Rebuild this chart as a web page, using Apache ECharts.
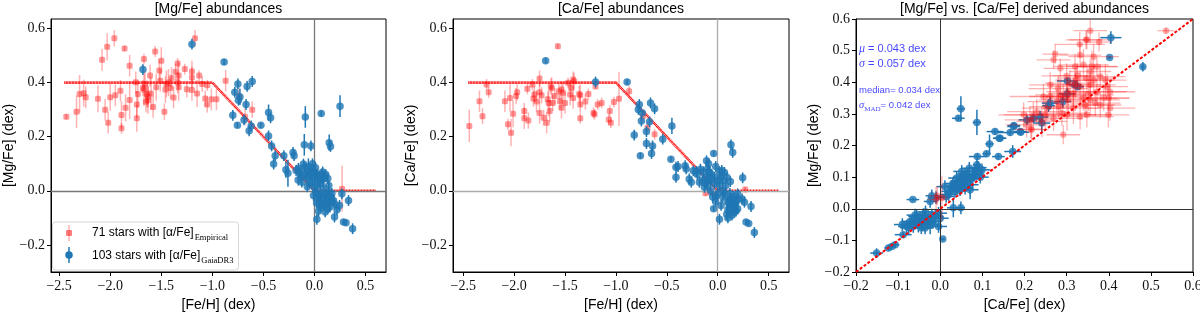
<!DOCTYPE html>
<html><head><meta charset="utf-8">
<script src="https://cdn.jsdelivr.net/npm/echarts@6/dist/echarts.min.js"></script>
<style>html,body{margin:0;padding:0;background:#fff}#c{width:1200px;height:314px}</style>
</head><body><div id="c"></div>
<script>
// ---------- tick labels / titles ----------
const titles = ['[Mg/Fe] abundances', '[Ca/Fe] abundances', '[Mg/Fe] vs. [Ca/Fe] derived abundances'];
const xTicksFeH = [-2.5, -2.0, -1.5, -1.0, -0.5, 0.0, 0.5];
const yTicksAbund = [-0.2, 0.0, 0.2, 0.4, 0.6];
const xTicksCa = [-0.2, -0.1, 0.0, 0.1, 0.2, 0.3, 0.4, 0.5, 0.6];
const yTicksMg = [-0.2, -0.1, 0.0, 0.1, 0.2, 0.3, 0.4, 0.5, 0.6];
// model trend (breakpoints) and 1:1 line
const modelLine = [[-2.45, 0.4], [-1.0, 0.4], [0.0, 0.0], [0.6, 0.0]];
const identityLine = [[-0.2, -0.2], [0.6, 0.6]];

// ---------- panel 1: [Fe/H], [Mg/Fe], err ----------
const p1Red = [
[-2.43,0.274,0.01],[-2.33,0.292,0.06],[-2.30,0.358,0.07],[-2.26,0.361,0.05],[-2.24,0.346,0.04],
[-2.08,0.484,0.04],[-2.03,0.532,0.05],[-1.96,0.564,0.03],[-1.86,0.526,0.01],[-2.05,0.300,0.04],
[-2.02,0.252,0.04],[-2.00,0.346,0.05],[-1.95,0.353,0.04],[-1.89,0.280,0.05],[-1.89,0.231,0.02],
[-1.85,0.307,0.05],[-1.81,0.336,0.07],[-1.81,0.462,0.04],[-1.75,0.401,0.04],[-1.74,0.319,0.05],
[-1.74,0.268,0.05],[-1.73,0.358,0.05],[-1.67,0.487,0.02],[-1.66,0.395,0.05],[-1.67,0.374,0.06],
[-1.64,0.358,0.05],[-1.63,0.349,0.04],[-1.65,0.329,0.04],[-1.61,0.426,0.04],[-1.56,0.515,0.02],
[-1.55,0.383,0.05],[-1.52,0.445,0.04],[-1.50,0.481,0.05],[-1.51,0.407,0.04],[-1.46,0.374,0.05],
[-1.47,0.292,0.03],[-1.45,0.395,0.05],[-1.41,0.380,0.04],[-1.40,0.417,0.04],[-1.34,0.471,0.02],
[-1.34,0.401,0.04],[-1.33,0.426,0.05],[-1.33,0.383,0.05],[-1.27,0.450,0.02],[-1.20,0.441,0.04],
[-1.20,0.373,0.04],[-1.20,0.419,0.04],[-1.13,0.426,0.02],[-1.05,0.390,0.02],[-1.07,0.341,0.03],
[-1.05,0.319,0.03],[-1.01,0.338,0.04],[-0.96,0.338,0.04],[-1.17,0.564,0.03],[-0.87,0.407,0.04],
[-0.74,0.350,0.03],[-0.61,0.300,0.03],[-0.68,0.274,0.03],[0.27,0.008,0.085],
[-1.68,0.380,0.03],[-1.63,0.335,0.05],[-1.60,0.360,0.06],[-1.58,0.310,0.04],[-1.38,0.345,0.04],
[-1.43,0.400,0.05],[-1.25,0.375,0.03],[-1.15,0.360,0.05],[-1.10,0.395,0.03],[-2.12,0.340,0.05],
[-1.90,0.370,0.04],[-1.36,0.440,0.03]
];
const p1Blue = [
[-1.68,0.448,0.02],[-1.20,0.542,0.02],[-0.885,0.476,0.01],[-0.75,0.395,0.02],[-0.66,0.386,0.02],
[-0.61,0.404,0.02],[-0.78,0.364,0.02],[-0.73,0.347,0.03],[-0.745,0.335,0.02],[-0.67,0.319,0.02],
[-0.80,0.279,0.02],[-0.755,0.242,0.01],[-0.69,0.262,0.02],[-0.62,0.240,0.02],[-0.64,0.222,0.02],
[-0.525,0.242,0.01],[-0.45,0.289,0.03],[-0.43,0.270,0.02],[-0.45,0.203,0.02],[-0.42,0.166,0.02],
[-0.385,0.130,0.02],[-0.40,0.099,0.02],[-0.30,0.130,0.02],[-0.28,0.078,0.03],[-0.26,0.065,0.05],
[-0.21,0.142,0.02],[-0.20,0.130,0.02],[-0.09,0.273,0.04],[-0.10,0.170,0.04],[-0.035,0.166,0.02],
[0.066,0.286,0.01],[0.25,0.313,0.04],[0.144,0.178,0.03],[0.157,0.164,0.02],
[-0.18,0.075,0.02],[-0.157,0.083,0.02],[-0.14,0.068,0.02],[-0.108,0.099,0.02],[-0.098,0.087,0.02],
[-0.09,0.062,0.02],[-0.075,0.050,0.02],[-0.058,0.071,0.02],[-0.042,0.056,0.02],[-0.025,0.081,0.02],
[-0.02,0.032,0.02],[0.0,0.050,0.02],[0.007,0.068,0.02],[0.023,0.056,0.02],[0.04,0.038,0.02],
[0.072,0.062,0.02],[0.078,0.044,0.02],[0.056,0.026,0.02],[0.13,0.046,0.02],[-0.124,0.032,0.02],
[0.013,-0.005,0.02],[0.033,-0.023,0.02],[0.072,-0.030,0.02],[0.105,-0.015,0.02],[0.121,-0.036,0.02],
[0.144,-0.042,0.02],[0.164,-0.023,0.02],[0.186,-0.036,0.02],[0.088,-0.054,0.02],[0.105,-0.078,0.02],
[0.196,-0.097,0.02],[0.245,-0.054,0.02],[0.333,-0.036,0.02],[0.023,-0.105,0.02],[0.284,-0.115,0.01],
[0.308,-0.118,0.01],[0.373,-0.140,0.02],[0.268,-0.011,0.02],[0.046,-0.042,0.02],[0.137,-0.005,0.02],
[-0.01,-0.017,0.02],[0.056,-0.011,0.02],
[-0.13,0.055,0.02],[-0.06,0.090,0.03],[0.01,0.085,0.02],[0.03,0.020,0.02],[0.09,0.010,0.02],
[0.11,0.060,0.02],[-0.05,0.030,0.02],[0.06,-0.060,0.02],[0.15,-0.060,0.02],[0.02,-0.045,0.02],
[0.12,-0.020,0.02],[0.20,-0.050,0.02],[-0.16,0.040,0.02],[0.08,0.070,0.02],[-0.02,0.100,0.02],
[0.17,-0.010,0.02],[0.04,-0.075,0.02],[0.10,-0.045,0.02],[-0.07,0.015,0.02],[0.0,0.012,0.02],
[0.14,0.020,0.02],[0.22,-0.070,0.02],[0.06,-0.015,0.02],[-0.03,0.070,0.02],[0.09,0.045,0.02],
[0.13,-0.065,0.02],[0.025,0.060,0.02]
];

// ---------- panel 2: [Fe/H], [Ca/Fe], err ----------
const p2Red = [
[-2.44,0.240,0.06],[-2.34,0.331,0.04],[-2.31,0.276,0.03],[-2.27,0.393,0.02],[-2.25,0.364,0.02],
[-2.09,0.331,0.04],[-2.06,0.246,0.02],[-2.04,0.343,0.05],[-2.03,0.215,0.05],[-2.01,0.285,0.05],
[-1.97,0.364,0.03],[-1.98,0.350,0.03],[-1.90,0.295,0.03],[-1.90,0.268,0.04],[-1.86,0.260,0.03],
[-1.87,0.377,0.02],[-1.82,0.393,0.02],[-1.81,0.341,0.03],[-1.80,0.356,0.03],[-1.75,0.415,0.03],
[-1.75,0.364,0.04],[-1.73,0.353,0.03],[-1.75,0.288,0.04],[-1.71,0.270,0.03],[-1.68,0.252,0.04],
[-1.67,0.338,0.03],[-1.66,0.325,0.05],[-1.65,0.295,0.04],[-1.64,0.386,0.03],[-1.63,0.380,0.04],
[-1.62,0.325,0.03],[-1.57,0.534,0.01],[-1.56,0.368,0.03],[-1.55,0.331,0.03],[-1.535,0.374,0.03],
[-1.535,0.307,0.04],[-1.52,0.362,0.04],[-1.50,0.325,0.04],[-1.47,0.399,0.02],[-1.45,0.356,0.04],
[-1.42,0.411,0.03],[-1.42,0.343,0.04],[-1.41,0.405,0.03],[-1.36,0.358,0.03],[-1.35,0.319,0.03],
[-1.35,0.353,0.04],[-1.35,0.268,0.02],[-1.27,0.358,0.02],[-1.22,0.288,0.02],[-1.21,0.283,0.02],
[-1.20,0.386,0.01],[-1.18,0.319,0.02],[-1.14,0.325,0.02],[-1.07,0.264,0.02],[-1.05,0.252,0.02],
[-1.06,0.295,0.02],[-1.02,0.328,0.02],[-0.97,0.340,0.1],[-0.87,0.368,0.02],[-0.735,0.276,0.02],
[-0.69,0.233,0.02],[-0.62,0.209,0.02],[-0.12,-0.009,0.01],[-0.03,-0.011,0.01],[0.017,0.007,0.01],
[0.27,0.005,0.01],[-0.07,-0.005,0.01],[-1.78,0.330,0.04],[-1.60,0.350,0.03],[-1.44,0.380,0.03],
[-1.30,0.330,0.03]
];
const p2Blue = [
[-1.69,0.481,0.01],[-1.20,0.402,0.02],[-0.89,0.402,0.01],[-0.82,0.206,0.02],
[-0.77,0.319,0.02],[-0.78,0.301,0.02],[-0.74,0.288,0.01],[-0.75,0.258,0.02],[-0.66,0.325,0.02],
[-0.62,0.303,0.02],[-0.67,0.255,0.02],[-0.70,0.219,0.02],[-0.70,0.175,0.02],[-0.64,0.166,0.02],
[-0.65,0.138,0.02],[-0.76,0.130,0.01],[-0.54,0.191,0.02],[-0.45,0.240,0.03],[-0.46,0.117,0.01],
[-0.41,0.087,0.02],[-0.39,0.090,0.02],[-0.41,0.050,0.02],[-0.32,0.093,0.02],[-0.31,0.081,0.02],
[-0.28,0.044,0.02],[-0.26,0.032,0.02],[-0.24,0.074,0.02],[-0.21,0.072,0.02],[-0.11,0.111,0.02],
[-0.04,0.138,0.01],[-0.10,0.081,0.02],[-0.08,0.068,0.02],[-0.18,0.032,0.02],[-0.15,0.038,0.02],
[-0.11,0.050,0.03],[-0.065,0.040,0.02],[-0.03,0.050,0.02],[0.0,0.038,0.02],[0.017,0.071,0.02],
[0.066,0.068,0.02],[0.049,0.038,0.02],[0.124,0.034,0.02],[0.13,0.170,0.02],[0.147,0.142,0.02],
[0.245,0.048,0.02],[-0.10,0.019,0.02],[-0.13,0.013,0.02],[-0.05,-0.023,0.02],[-0.016,-0.021,0.02],
[-0.04,-0.066,0.01],[0.017,-0.105,0.02],[0.033,-0.054,0.02],[0.088,-0.087,0.02],[0.098,-0.042,0.02],
[0.115,-0.060,0.02],[0.131,-0.048,0.02],[0.147,-0.066,0.02],[0.164,-0.054,0.02],[0.141,-0.036,0.02],
[0.115,-0.030,0.02],[0.18,-0.042,0.02],[0.196,-0.011,0.02],[0.239,-0.030,0.02],[0.262,-0.042,0.02],
[0.327,-0.058,0.02],[0.278,-0.115,0.01],[0.304,-0.121,0.01],[0.36,-0.154,0.02],[0.05,-0.023,0.02],
[0.164,-0.078,0.02],[0.196,-0.066,0.02],
[-0.20,0.060,0.02],[-0.14,0.070,0.02],[-0.09,0.100,0.02],[-0.06,0.060,0.02],[-0.02,0.090,0.02],
[0.03,0.050,0.02],[0.08,0.020,0.02],[-0.07,0.000,0.02],[0.0,-0.010,0.02],[0.05,0.000,0.02],
[0.10,-0.070,0.02],[0.13,-0.075,0.02],[0.15,-0.045,0.02],[0.12,-0.055,0.02],[0.17,-0.060,0.02],
[0.14,-0.090,0.02],[0.11,-0.040,0.02],[0.20,-0.030,0.02],[-0.12,0.030,0.02],[-0.03,0.025,0.02],
[0.09,0.050,0.02],[0.07,-0.010,0.02],[0.16,-0.020,0.02],[-0.17,0.080,0.02],[0.02,0.020,0.02],
[-0.08,0.045,0.02],[0.12,-0.010,0.02],[0.04,0.075,0.02],[0.18,-0.075,0.02],[0.10,-0.100,0.02],
[-0.02,-0.040,0.02],[0.13,-0.030,0.02]
];

// ---------- panel 3: [Ca/Fe], [Mg/Fe], xerr, yerr ----------
const p3Red = [
[0.536,0.563,0.02,0.01],[0.356,0.563,0.04,0.04],[0.331,0.520,0.06,0.04],[0.348,0.534,0.05,0.03],
[0.273,0.489,0.03,0.03],[0.269,0.471,0.04,0.03],[0.285,0.444,0.04,0.03],[0.332,0.486,0.05,0.04],
[0.364,0.481,0.06,0.04],[0.372,0.449,0.05,0.03],[0.340,0.455,0.06,0.05],[0.356,0.434,0.05,0.04],
[0.348,0.413,0.07,0.04],[0.326,0.421,0.06,0.04],[0.323,0.407,0.05,0.04],[0.320,0.392,0.06,0.04],
[0.332,0.386,0.07,0.05],[0.356,0.392,0.06,0.04],[0.364,0.407,0.05,0.04],[0.380,0.418,0.06,0.04],
[0.392,0.407,0.05,0.05],[0.396,0.386,0.05,0.04],[0.372,0.370,0.07,0.04],[0.352,0.360,0.06,0.05],
[0.340,0.350,0.08,0.04],[0.356,0.344,0.07,0.05],[0.388,0.350,0.06,0.04],[0.403,0.370,0.06,0.04],
[0.316,0.365,0.06,0.05],[0.304,0.344,0.07,0.04],[0.292,0.355,0.05,0.04],[0.285,0.360,0.06,0.05],
[0.277,0.339,0.07,0.04],[0.261,0.355,0.05,0.04],[0.245,0.355,0.08,0.04],[0.253,0.318,0.06,0.04],
[0.229,0.307,0.07,0.04],[0.249,0.297,0.06,0.05],[0.221,0.297,0.07,0.04],[0.213,0.281,0.06,0.04],
[0.217,0.250,0.04,0.04],[0.241,0.276,0.06,0.05],[0.269,0.286,0.07,0.04],[0.289,0.302,0.06,0.04],
[0.301,0.297,0.07,0.05],[0.332,0.291,0.08,0.04],[0.348,0.297,0.06,0.04],[0.399,0.297,0.05,0.04],
[0.403,0.318,0.06,0.04],[0.292,0.234,0.04,0.03],[0.344,0.328,0.07,0.04],[0.316,0.318,0.06,0.05],
[0.380,0.328,0.05,0.04],[0.368,0.334,0.06,0.04],[0.308,0.397,0.06,0.04],[0.302,0.370,0.05,0.04],
[0.281,0.323,0.07,0.04],[0.261,0.392,0.05,0.04],[0.198,0.297,0.06,0.04],[0.205,0.265,0.05,0.04],
[0.346,0.534,0.04,0.03],[0.377,0.527,0.03,0.03],[0.215,0.252,0.03,0.03],[0.40,0.350,0.05,0.04],
[0.32,0.450,0.05,0.04],[0.30,0.420,0.06,0.04],[0.36,0.45,0.06,0.05],[0.28,0.38,0.07,0.04],
[-0.010,0.029,0.02,0.04],[0.004,0.034,0.015,0.07],[-0.007,0.041,0.02,0.03]
];
const p3Blue = [
[0.049,0.316,0.01,0.04],[0.043,0.286,0.015,0.01],[0.087,0.273,0.01,0.04],[0.130,0.244,0.02,0.01],
[0.142,0.223,0.015,0.01],[0.175,0.263,0.015,0.01],[0.191,0.242,0.02,0.01],[0.166,0.241,0.03,0.01],
[0.117,0.205,0.01,0.03],[0.110,0.174,0.01,0.01],[0.138,0.165,0.015,0.01],[0.172,0.181,0.02,0.02],
[0.088,0.165,0.02,0.01],[0.087,0.139,0.01,0.02],[0.083,0.118,0.02,0.02],[0.069,0.128,0.02,0.02],
[0.079,0.107,0.02,0.02],[0.099,0.123,0.02,0.02],[0.051,0.118,0.02,0.02],[0.039,0.097,0.02,0.02],
[0.047,0.086,0.02,0.02],[0.035,0.070,0.02,0.02],[0.027,0.070,0.02,0.02],[0.047,0.060,0.02,0.02],
[0.063,0.092,0.02,0.02],[0.071,0.076,0.02,0.03],[0.059,0.065,0.02,0.02],[0.023,0.055,0.02,0.02],
[0.011,0.070,0.02,0.02],[0.014,0.039,0.02,0.02],[-0.020,0.041,0.015,0.02],[-0.024,0.023,0.015,0.02],
[-0.065,0.029,0.015,0.005],[0.031,0.003,0.015,0.03],[0.049,0.003,0.01,0.02],[0.071,0.060,0.02,0.03],
[-0.004,-0.014,0.02,0.02],[-0.012,-0.024,0.02,0.02],[-0.040,-0.019,0.02,0.02],[-0.048,-0.029,0.02,0.02],
[-0.056,-0.024,0.02,0.02],[-0.060,-0.040,0.02,0.02],[-0.072,-0.040,0.02,0.02],[-0.052,-0.045,0.02,0.03],
[-0.044,-0.051,0.02,0.02],[-0.032,-0.035,0.02,0.02],[-0.024,-0.051,0.02,0.03],[-0.036,-0.061,0.02,0.02],
[-0.064,-0.056,0.02,0.02],[-0.080,-0.056,0.02,0.02],[-0.004,-0.056,0.02,0.02],[0.006,-0.096,0.005,0.005],
[-0.088,-0.082,0.02,0.01],[-0.107,-0.114,0.01,0.01],[-0.115,-0.119,0.01,0.01],[-0.123,-0.124,0.01,0.01],
[-0.151,-0.140,0.015,0.015],[-0.016,-0.040,0.02,0.02],[-0.036,-0.029,0.02,0.02],[-0.068,-0.045,0.02,0.02],
[0.405,0.541,0.025,0.02],[0.402,0.478,0.005,0.005],[0.481,0.449,0.005,0.015],[0.302,0.404,0.025,0.01],
[0.320,0.392,0.015,0.01],[0.326,0.386,0.015,0.01],[0.301,0.363,0.02,0.02],[0.291,0.339,0.02,0.02],
[0.261,0.334,0.02,0.02],[0.257,0.326,0.015,0.02],[0.237,0.290,0.02,0.02],[0.221,0.286,0.02,0.015],
[0.206,0.281,0.02,0.015],[0.241,0.271,0.02,0.03],[0.174,0.260,0.015,0.01],[0.140,0.223,0.015,0.01],
[0.190,0.244,0.015,0.01],
[0.030,0.080,0.02,0.02],[0.055,0.090,0.02,0.02],[0.065,0.105,0.02,0.02],[0.040,0.065,0.02,0.02],
[0.020,0.045,0.02,0.02],[-0.010,0.035,0.02,0.02],[0.075,0.095,0.02,0.02],[0.095,0.100,0.02,0.02],
[-0.050,-0.035,0.02,0.02],[-0.030,-0.045,0.02,0.02],[-0.045,-0.060,0.02,0.02],[-0.090,-0.050,0.02,0.02],
[-0.020,-0.020,0.02,0.02],[-0.060,-0.020,0.02,0.02],[0.000,-0.030,0.02,0.02],[0.050,0.100,0.02,0.02],
[0.060,0.075,0.02,0.02],[0.085,0.110,0.02,0.02],[0.035,0.055,0.02,0.02],[-0.075,-0.060,0.02,0.02],
[-0.035,-0.010,0.02,0.02],[0.045,0.075,0.02,0.03],[0.090,0.130,0.02,0.02],[0.060,0.110,0.02,0.02]
];

// ---------- stats text ----------
const statLines = [
  {sym: 'μ', sub: '', rest: ' = 0.043 dex'},
  {sym: 'σ', sub: '', rest: ' = 0.057 dex'},
  {sym: '', sub: '', rest: 'median= 0.034 dex'},
  {sym: 'σ', sub: 'MAD', rest: '= 0.042 dex'}
];
const legendLabels = [
  {main: '71 stars with [α/Fe]', sub: 'Empirical'},
  {main: '103 stars with [α/Fe]', sub: 'GaiaDR3'}
];

// ---------- styling ----------
const BLUE = '#1f77b4';
const RED_MK = 'rgba(255,0,0,0.5)';
const RED_EB = 'rgba(255,0,0,0.3)';
const SERIF = 'Liberation Serif';
const SANS = 'Liberation Sans';
const fmt = v => (v < 0 ? '\u2212' : '') + Math.abs(v).toFixed(1);

const chart = echarts.init(document.getElementById('c'), null, {renderer: 'canvas'});

function vErrSeries(data, xi, yi, color, width, z) {
  return {
    type: 'custom', xAxisIndex: xi, yAxisIndex: yi, z: z, silent: true, clip: true,
    data: data,
    renderItem: function (params, api) {
      const x = api.value(0), y = api.value(1), e = api.value(2);
      const a = api.coord([x, y - e]), b = api.coord([x, y + e]);
      return {type: 'line', shape: {x1: a[0], y1: a[1], x2: b[0], y2: b[1]},
              style: {stroke: color, lineWidth: width}};
    }
  };
}
function xyErrSeries(data, xi, yi, color, width, z) {
  return {
    type: 'custom', xAxisIndex: xi, yAxisIndex: yi, z: z, silent: true, clip: true,
    data: data,
    renderItem: function (params, api) {
      const x = api.value(0), y = api.value(1), ex = api.value(2), ey = api.value(3);
      const a = api.coord([x, y - ey]), b = api.coord([x, y + ey]);
      const c = api.coord([x - ex, y]), d = api.coord([x + ex, y]);
      return {type: 'group', children: [
        {type: 'line', shape: {x1: a[0], y1: a[1], x2: b[0], y2: b[1]}, style: {stroke: color, lineWidth: width}},
        {type: 'line', shape: {x1: c[0], y1: c[1], x2: d[0], y2: d[1]}, style: {stroke: color, lineWidth: width}}
      ]};
    }
  };
}
function markers(data, xi, yi, color, symbol, size, z) {
  return {
    type: 'scatter', xAxisIndex: xi, yAxisIndex: yi, z: z, silent: true,
    data: data.map(d => [d[0], d[1]]), symbol: symbol, symbolSize: size,
    itemStyle: {color: color}, animation: false
  };
}
function zeroLines(xi, yi, color, width) {
  return {
    type: 'line', xAxisIndex: xi, yAxisIndex: yi, data: [], silent: true, z: 1,
    markLine: {silent: true, symbol: 'none', animation: false, label: {show: false},
      lineStyle: {color: color, width: width, type: 'solid'},
      data: [{xAxis: 0}, {yAxis: 0}]}
  };
}

const grids = [
  {left: 51, top: 19, width: 335, height: 253},
  {left: 453, top: 19, width: 336, height: 253},
  {left: 856, top: 19, width: 337, height: 253}
].map(g => Object.assign({show: true, borderColor: '#000', borderWidth: 1, backgroundColor: 'transparent',
  containLabel: false, outerBoundsMode: 'none'}, g));

function valueAxis(gi, min, max, ticks, name, isY, nameGap) {
  return {
    type: 'value', gridIndex: gi, min: min, max: max,
    name: name, nameLocation: 'middle', nameGap: nameGap,
    nameRotate: isY ? 90 : 0,
    nameTextStyle: {fontFamily: SANS, fontSize: 14, color: '#000'},
    axisLine: {show: true, onZero: false, lineStyle: {color: '#000', width: 1}},
    axisTick: {show: true, length: 4, customValues: ticks, lineStyle: {color: '#000', width: 1}},
    axisLabel: {show: true, customValues: ticks, formatter: fmt, margin: isY ? 6 : 7,
                fontFamily: SERIF, fontSize: 14, color: '#111'},
    splitLine: {show: false}
  };
}

const xAxes = [
  valueAxis(0, -2.58, 0.70, xTicksFeH, '[Fe/H] (dex)', false, 26),
  valueAxis(1, -2.60, 0.70, xTicksFeH, '[Fe/H] (dex)', false, 26),
  valueAxis(2, -0.2, 0.6, xTicksCa, '[Ca/Fe] (dex)', false, 26)
];
const yAxes = [
  valueAxis(0, -0.30, 0.635, yTicksAbund, '[Mg/Fe] (dex)', true, 34),
  valueAxis(1, -0.30, 0.635, yTicksAbund, '[Ca/Fe] (dex)', true, 34),
  valueAxis(2, -0.2, 0.6, yTicksMg, '[Mg/Fe] (dex)', true, 34)
];

function modelSeries(xi) {
  return {type: 'line', xAxisIndex: xi, yAxisIndex: xi, data: modelLine, z: 4, silent: true,
    symbol: 'none', animation: false, clip: true,
    lineStyle: {color: '#ff0000', width: 2.6, type: [1, 0.5]}};
}

const series = [
  zeroLines(0, 0, '#777', 1.3),
  vErrSeries(p1Red, 0, 0, RED_EB, 1.5, 2),
  markers(p1Red, 0, 0, RED_MK, 'roundRect', 6, 3),
  modelSeries(0),
  vErrSeries(p1Blue, 0, 0, BLUE, 1.5, 5),
  markers(p1Blue, 0, 0, BLUE, 'circle', 7.5, 6),

  zeroLines(1, 1, '#aaa', 1.3),
  vErrSeries(p2Red, 1, 1, RED_EB, 1.5, 2),
  markers(p2Red, 1, 1, RED_MK, 'roundRect', 6, 3),
  modelSeries(1),
  vErrSeries(p2Blue, 1, 1, BLUE, 1.5, 5),
  markers(p2Blue, 1, 1, BLUE, 'circle', 7.5, 6),

  zeroLines(2, 2, '#333', 1),
  xyErrSeries(p3Blue, 2, 2, BLUE, 1.5, 2),
  markers(p3Blue, 2, 2, BLUE, 'circle', 7.5, 3),
  xyErrSeries(p3Red, 2, 2, RED_EB, 1.3, 4),
  markers(p3Red, 2, 2, 'rgba(255,0,0,0.4)', 'circle', 6.5, 5),
  {type: 'line', xAxisIndex: 2, yAxisIndex: 2, data: identityLine, z: 7, silent: true,
   symbol: 'none', animation: false, lineStyle: {color: '#ff0000', width: 2, type: [3, 1.8]}}
];

// ---------- titles, legend, annotation text ----------
const graphics = [];
const titleCenters = [218.5, 621, 1024.5];
titles.forEach((t, i) => graphics.push({type: 'text', x: titleCenters[i], y: 9, silent: true,
  style: {text: t, fontFamily: SANS, fontSize: 14, fill: '#000', align: 'center', verticalAlign: 'middle'}}));

// legend box
graphics.push({type: 'rect', silent: true, z: 50, shape: {x: 52.5, y: 222, width: 186, height: 48, r: 3},
  style: {fill: 'rgba(255,255,255,0.8)', stroke: '#d6d6d6', lineWidth: 1}});
graphics.push({type: 'line', silent: true, z: 51, shape: {x1: 69, y1: 225, x2: 69, y2: 241}, style: {stroke: RED_EB, lineWidth: 1.5}});
graphics.push({type: 'rect', silent: true, z: 52, shape: {x: 66, y: 230, width: 6, height: 6, r: 1}, style: {fill: RED_MK}});
graphics.push({type: 'line', silent: true, z: 51, shape: {x1: 69, y1: 247, x2: 69, y2: 263}, style: {stroke: BLUE, lineWidth: 1.5}});
graphics.push({type: 'circle', silent: true, z: 52, shape: {cx: 69, cy: 255, r: 3.75}, style: {fill: BLUE}});
const legendRich = {
  a: {fontFamily: SANS, fontSize: 12, fill: '#000', lineHeight: 18, verticalAlign: 'middle'},
  s: {fontFamily: SERIF, fontSize: 8.5, fill: '#000', lineHeight: 18, verticalAlign: 'bottom', padding: [0, 0, 0, 1]}
};
legendLabels.forEach((l, i) => graphics.push({type: 'text', silent: true, z: 53, x: 92, y: 233 + i * 23,
  style: {text: '{a|' + l.main + '}{s|' + l.sub + '}', rich: legendRich, verticalAlign: 'middle', align: 'left'}}));

// stats annotation
const STAT = 'rgba(20,20,255,0.8)';
const statY = [48.5, 63.5, 90, 105];
const statSize = [11, 11, 9.5, 9.5];
statLines.forEach((s, i) => {
  const fs = statSize[i];
  const rich = {
    m: {fontFamily: SERIF, fontStyle: 'italic', fontSize: fs + 1, fill: STAT, lineHeight: 16, verticalAlign: 'middle'},
    b: {fontFamily: SERIF, fontSize: 7, fill: STAT, lineHeight: 16, verticalAlign: 'bottom'},
    n: {fontFamily: SANS, fontSize: fs, fill: STAT, lineHeight: 16, verticalAlign: 'middle'}
  };
  let txt = '';
  if (s.sym) txt += '{m|' + s.sym + '}';
  if (s.sub) txt += '{b|' + s.sub + '}';
  txt += '{n|' + s.rest + '}';
  graphics.push({type: 'text', silent: true, z: 60, x: 859, y: statY[i],
    style: {text: txt, rich: rich, fill: STAT, verticalAlign: 'middle', align: 'left'}});
});

chart.setOption({
  animation: false,
  backgroundColor: '#fff',
  textStyle: {fontFamily: SERIF},
  grid: grids,
  xAxis: xAxes,
  yAxis: yAxes,
  series: series,
  graphic: graphics
});
</script></body></html>
